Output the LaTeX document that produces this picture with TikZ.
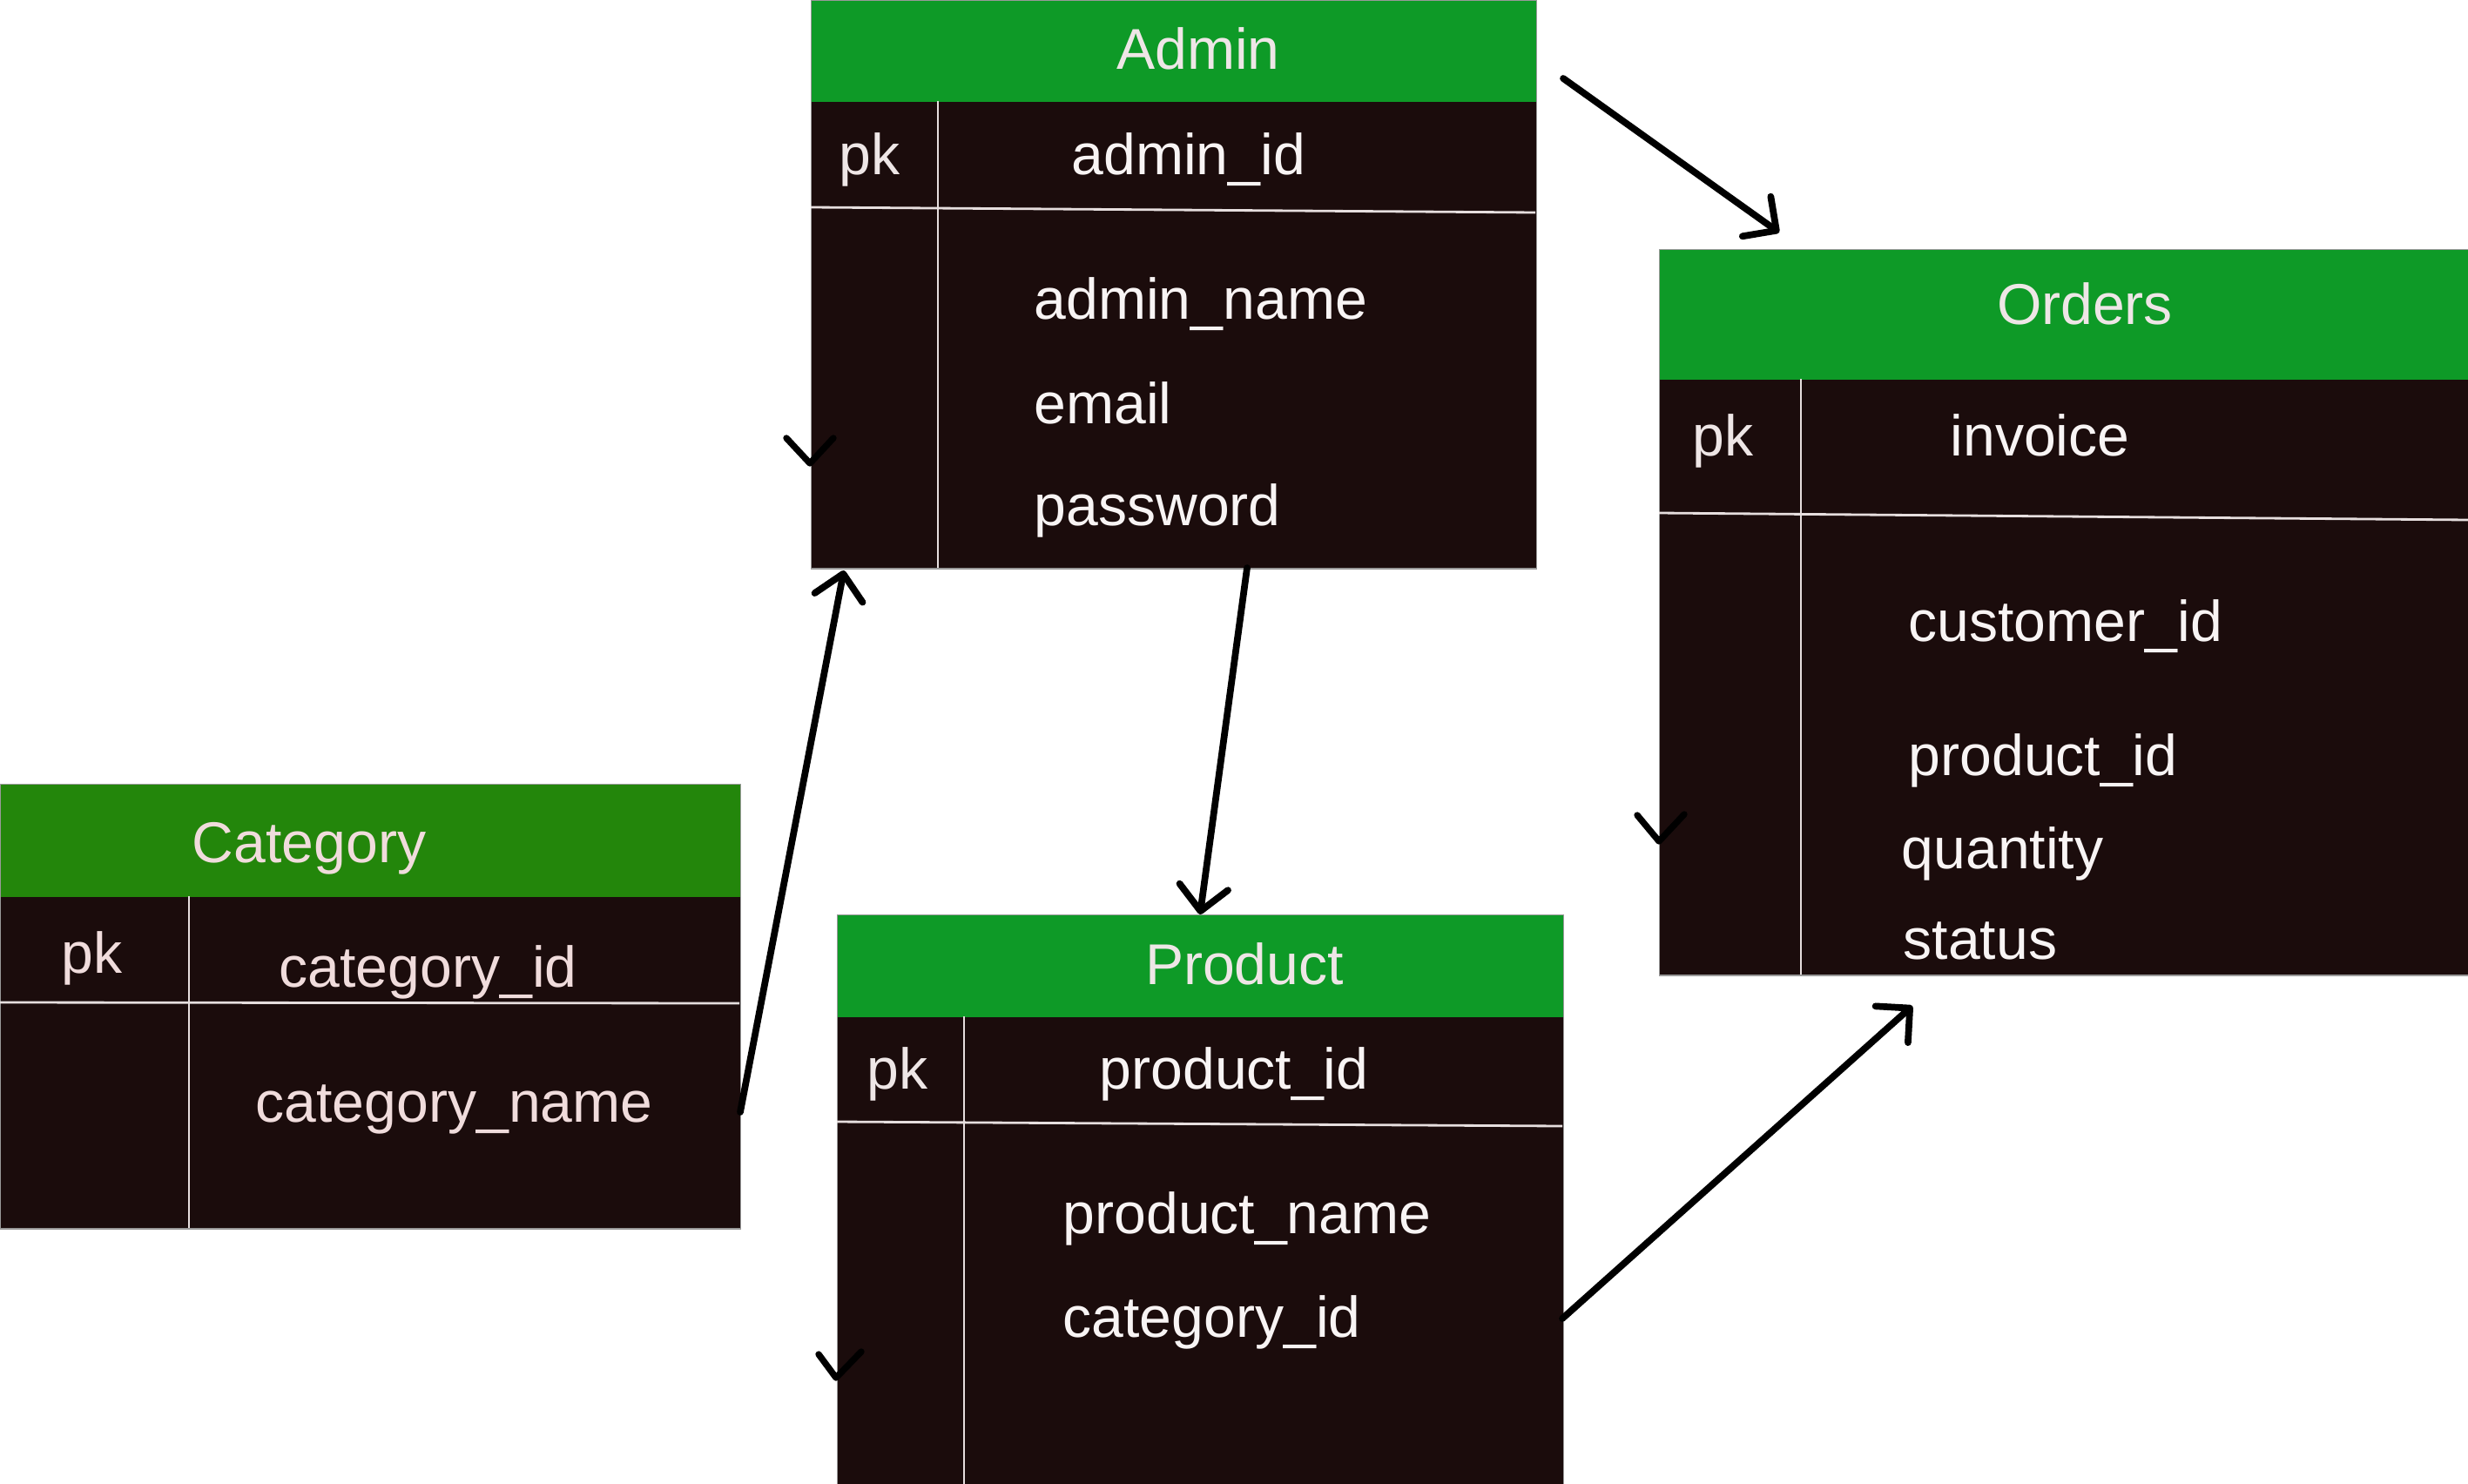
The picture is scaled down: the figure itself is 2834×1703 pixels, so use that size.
\documentclass[tikz,border=0pt]{standalone}
\usepackage{fontspec}
\setmainfont{Liberation Sans}
\usetikzlibrary{arrows.meta}
\definecolor{headgreen}{HTML}{0E9A27}
\definecolor{catgreen}{HTML}{23860B}
\definecolor{bodydark}{HTML}{1B0C0C}
\definecolor{headtext}{HTML}{EEE6E6}
\definecolor{fieldtext}{HTML}{F8F4F4}
\definecolor{cattext}{HTML}{F0DCDC}
\definecolor{gridwhite}{HTML}{E6DEDE}

\begin{document}
\begin{tikzpicture}[x=0.01cm, y=-0.01cm, font=\fontsize{18.8}{22}\selectfont]
    \tikzstyle{table body} = [fill=bodydark, draw=black!40, line width=0.4pt, anchor=north west]
    \tikzstyle{table head} = [fill=headgreen, anchor=north west]
    \tikzstyle{grid line} = [gridwhite, line width=0.8pt]
    \tikzstyle{title} = [headtext, inner sep=0pt, anchor=base]
    \tikzstyle{field} = [fieldtext, inner sep=0pt, anchor=base west]
    \tikzstyle{link} = [line width=2.2pt, line cap=round, -{Straight Barb[length=2.8mm, width=5.6mm, round]}]
    \tikzstyle{stray tip} = [line width=2.1pt, line cap=round, line join=round]
    \useasboundingbox (0,0) rectangle (2834,1703);

    % Admin
    \node[table body, minimum width=8.32cm, minimum height=6.52cm] (admin) at (931,0) {};
    \node[table head, minimum width=8.32cm, minimum height=1.16cm] (admin head) at (admin.north west) {};
    \draw[grid line] (1077,116) -- (1077,652);
    \draw[grid line] (931,238) -- (1763,244);
    \node[title] (admin title) at (1376,80) {Admin};
    \node[field, headtext] (admin pk) at (963,200) {pk};
    \node[field] (admin key) at (1230,200) {admin\_id};
    \foreach \y/\txt [count=\i] in {366/admin\_name, 486/email, 603/password}
        \node[field] (admin f\i) at (1187,\y) {\txt};

    % Orders
    \node[table body, minimum width=9.29cm, minimum height=8.33cm] (orders) at (1905,286) {};
    \node[table head, minimum width=9.29cm, minimum height=1.49cm] (orders head) at (orders.north west) {};
    \draw[grid line] (2068,435) -- (2068,1119);
    \draw[grid line] (1905,589) -- (2834,597);
    \node[title] (orders title) at (2394,372) {Orders};
    \node[field, headtext] (orders pk) at (1943,523) {pk};
    \node[field] (orders key) at (2239,523) {invoice};
    \foreach \x/\y/\txt [count=\i] in {2191/736/customer\_id, 2191/890/product\_id, 2183/997/quantity, 2185/1101/status}
        \node[field] (orders f\i) at (\x,\y) {\txt};

    % Category
    \node[table body, minimum width=8.49cm, minimum height=5.10cm] (category) at (0,900) {};
    \node[table head, fill=catgreen, minimum width=8.49cm, minimum height=1.29cm] (category head) at (category.north west) {};
    \draw[grid line] (217,1029) -- (217,1410);
    \draw[grid line] (0,1151) -- (849,1152);
    \node[title, cattext] (category title) at (355,990) {Category};
    \node[field, cattext] (category pk) at (70,1117) {pk};
    \node[field, cattext] (category key) at (320,1133) {category\_id};
    \node[field, cattext] (category f1) at (293,1288) {category\_name};

    % Product
    \node[table body, minimum width=8.33cm, minimum height=6.55cm] (product) at (961,1050) {};
    \node[table head, minimum width=8.33cm, minimum height=1.17cm] (product head) at (product.north west) {};
    \draw[grid line] (1107,1167) -- (1107,1705);
    \draw[grid line] (961,1288) -- (1794,1293);
    \node[title] (product title) at (1429,1130) {Product};
    \node[field, headtext] (product pk) at (995,1250) {pk};
    \node[field] (product key) at (1262,1250) {product\_id};
    \foreach \y/\txt [count=\i] in {1416/product\_name, 1535/category\_id}
        \node[field] (product f\i) at (1220,\y) {\txt};

    % links
    \coordinate (admin out) at (1795,90);
    \coordinate (orders in) at (2043,267);
    \coordinate (admin low) at (1432,652);
    \coordinate (product in) at (1378,1050);
    \coordinate (category out) at (850,1277);
    \coordinate (admin in) at (969,655);
    \coordinate (product out) at (1794,1514);
    \coordinate (orders low) at (2196,1155);
    \draw[link] (admin out) -- (orders in);
    \draw[link] (admin low) -- (product in);
    \draw[link] (category out) -- (admin in);
    \draw[link] (product out) -- (orders low);

    % loose tips on the left edges
    \draw[stray tip] (903,503) -- (930,532) -- (957,503);
    \draw[stray tip] (1880,936) -- (1905,966) -- (1934,935);
    \draw[stray tip] (940,1555) -- (960,1582) -- (989,1552);
\end{tikzpicture}
\end{document}
